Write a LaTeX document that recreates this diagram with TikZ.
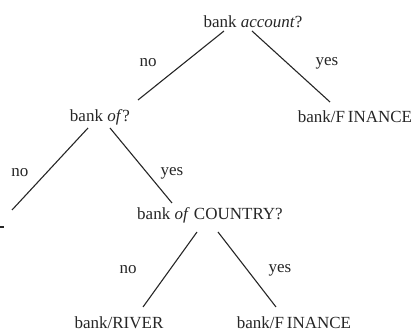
\documentclass[tikz,border=0pt]{standalone}
\usepackage{fontspec}
\setmainfont{Liberation Serif}
\usetikzlibrary{calc}
\begin{document}
\begin{tikzpicture}[x=1pt,y=1pt,
  lbl/.style={font=\fontsize{17}{20}\selectfont, inner sep=0pt, text=black!85},
  edge/.style={draw=black!85, line width=1.1pt}]
\useasboundingbox (0,0) rectangle (415,331);
% nodes (y = 331 - pixel y)
\node[lbl] (root) at (253,309) {bank \textit{account}?};
\node[lbl] (of) at (100,214) {bank \textit{of}?};
\node[lbl] (fin1) at (355,214) {bank/F\,INANCE};
\node[lbl] (country) at (210,116) {bank \textit{of} COUNTRY?};
\node[lbl] (river) at (119,8) {bank/RIVER};
\node[lbl] (fin2) at (294,8) {bank/F\,INANCE};
\coordinate (cut) at (12,121);
\coordinate (dashA) at (0,104);
\coordinate (dashB) at (4,104);
% edges
\draw[edge] ($(root.center)+(-29,-9)$) -- ($(of.center)+(38,17)$);
\draw[edge] ($(root.center)+(-1,-9)$) -- ($(fin1.center)+(-25,15)$);
\draw[edge] ($(of.center)+(-12,-11)$) -- (cut);
\draw[edge] ($(of.center)+(10,-11)$) -- ($(country.center)+(-38,12)$);
\draw[edge] ($(country.center)+(-13,-17)$) -- ($(river.center)+(24,16)$);
\draw[edge] ($(country.center)+(8,-17)$) -- ($(fin2.center)+(-18,16)$);
\draw[edge] (dashA) -- (dashB);
% labels
\node[lbl] (l1) at (148,268) {no};
\node[lbl] (l2) at (327,268) {yes};
\node[lbl] (l3) at (20,158) {no};
\node[lbl] (l4) at (172,158) {yes};
\node[lbl] (l5) at (128,61) {no};
\node[lbl] (l6) at (280,61) {yes};
\end{tikzpicture}
\end{document}
